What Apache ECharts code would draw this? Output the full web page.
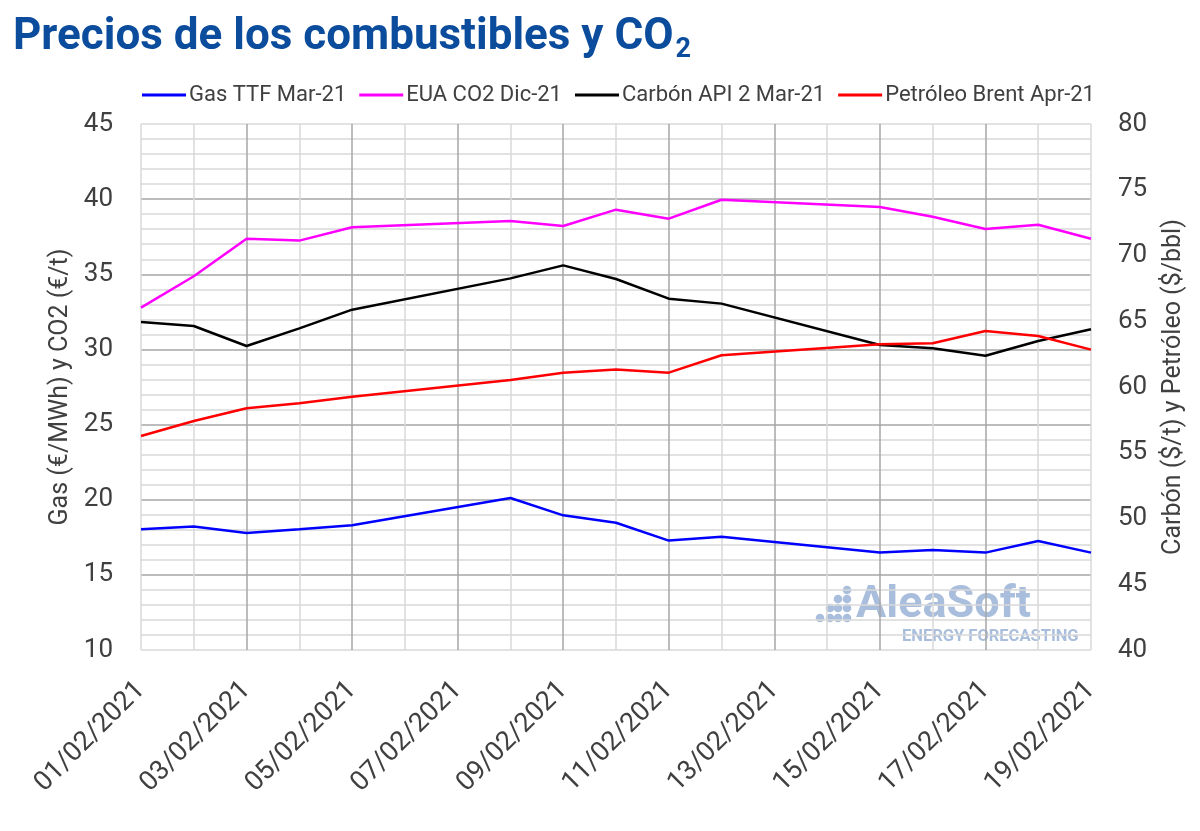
<!DOCTYPE html>
<html>
<head>
<meta charset="utf-8">
<script src="https://cdn.jsdelivr.net/npm/echarts@6/dist/echarts.min.js"></script>
<style>html,body{margin:0;padding:0;background:#fff}#c{width:1200px;height:831px}</style>
</head>
<body>
<div id="c"></div>
<script>
const categories = ['01/02/2021','02/02/2021','03/02/2021','04/02/2021','05/02/2021','06/02/2021','07/02/2021','08/02/2021','09/02/2021','10/02/2021','11/02/2021','12/02/2021','13/02/2021','14/02/2021','15/02/2021','16/02/2021','17/02/2021','18/02/2021','19/02/2021'];
// weekends (no trading) are null; line connects across them
const gasTTF = [18.03, 18.21, 17.79, 18.03, 18.30, null, null, 20.11, 18.96, 18.47, 17.28, 17.54, null, null, 16.48, 16.66, 16.48, 17.25, 16.48];
const euaCO2 = [32.78, 34.87, 37.37, 37.24, 38.13, null, null, 38.55, 38.21, 39.30, 38.70, 39.96, null, null, 39.48, 38.83, 38.01, 38.30, 37.37];
const carbonAPI2 = [64.94, 64.64, 63.12, 64.46, 65.88, null, null, 68.26, 69.25, 68.21, 66.72, 66.34, null, null, 63.19, 62.94, 62.38, 63.50, 64.39];
const brent = [56.27, 57.41, 58.38, 58.76, 59.26, null, null, 60.53, 61.09, 61.33, 61.09, 62.41, null, null, 63.25, 63.32, 64.26, 63.88, 62.84];
const seriesNames = ['Gas TTF Mar-21', 'EUA CO2 Dic-21', 'Carbón API 2 Mar-21', 'Petróleo Brent Apr-21'];

const FONT = 'Roboto, "Noto Sans", sans-serif';
const LIGHT = '#d9d9d9', DARK = '#a6a6a6';
const xSplitColors = categories.map((c, i) => (i > 0 && i < categories.length - 1 && i % 2 === 0) ? DARK : LIGHT);
const ySplitColors = [LIGHT, DARK, DARK, DARK, DARK, DARK, DARK, LIGHT];

const chart = echarts.init(document.getElementById('c'));
const dots = [[820,618],[830,608],[830,618],[838,599],[838,608],[838,618],[847,590],[847,599],[847,608],[847,618]];
const WM = '#a9bedc';
chart.setOption({
  animation: false,
  backgroundColor: '#fff',
  title: {
    text: '{m|Precios de los combustibles y CO}{s|2}',
    left: 8, top: 6,
    textStyle: {
      rich: {
        m: { fontFamily: FONT, fontWeight: 'bold', fontSize: 44, lineHeight: 50, color: '#0b4c9c' },
        s: { fontFamily: FONT, fontWeight: 'bold', fontSize: 27, color: '#0b4c9c', verticalAlign: 'top', padding: [26, 0, 0, 2] }
      }
    }
  },
  legend: {
    top: 79, left: 137,
    itemGap: 13,
    itemWidth: 44, itemHeight: 3,
    icon: 'rect',
    textStyle: { fontFamily: FONT, fontSize: 22, color: '#404040', padding: [0, 0, 0, -2] },
    data: seriesNames
  },
  grid: { left: 141, top: 124, width: 950, height: 526, containLabel: false },
  xAxis: {
    type: 'category',
    data: categories,
    boundaryGap: false,
    axisLine: { show: false },
    axisTick: { show: false },
    axisLabel: { interval: 1, rotate: 45, fontFamily: FONT, fontSize: 27, color: '#404040', margin: 36 },
    splitLine: { show: true, interval: 0, lineStyle: { color: xSplitColors, width: 1.5 } }
  },
  yAxis: [
    {
      type: 'value', min: 10, max: 45, interval: 5,
      name: 'Gas (€/MWh) y CO2 (€/t)',
      nameLocation: 'middle', nameGap: 66,
      nameTextStyle: { fontFamily: FONT, fontSize: 25, color: '#404040' },
      axisLine: { show: false }, axisTick: { show: false },
      axisLabel: { fontFamily: FONT, fontSize: 26, color: '#404040', margin: 28 },
      splitLine: { show: true, lineStyle: { color: ySplitColors, width: 1.5 } },
      minorTick: { show: false, splitNumber: 5 },
      minorSplitLine: { show: true, lineStyle: { color: LIGHT, width: 1.5 } }
    },
    {
      type: 'value', min: 40, max: 80, interval: 5,
      name: 'Carbón ($/t) y Petróleo ($/bbl)',
      nameLocation: 'middle', nameGap: 70, nameRotate: 90,
      nameTextStyle: { fontFamily: FONT, fontSize: 25, color: '#404040' },
      axisLine: { show: false }, axisTick: { show: false },
      axisLabel: { fontFamily: FONT, fontSize: 26, color: '#404040', margin: 27 },
      splitLine: { show: false }
    }
  ],
  graphic: [
    ...dots.map(d => ({ type: 'circle', shape: { cx: d[0], cy: d[1], r: 4.3 }, style: { fill: WM }, z: -10, silent: true })),
    { type: 'text', left: 856, top: 583, style: { text: 'AleaSoft', fontFamily: FONT, fontWeight: 'bold', fontSize: 45, fill: WM }, z: -10, silent: true },
    { type: 'text', left: 902, top: 628, style: { text: 'ENERGY FORECASTING', fontFamily: FONT, fontWeight: 'bold', fontSize: 16.5, fill: WM }, z: -10, silent: true }
  ],
  series: [
    { name: seriesNames[0], type: 'line', data: gasTTF, yAxisIndex: 0, connectNulls: true, showSymbol: false, lineStyle: { color: '#0000ff', width: 2.5 }, itemStyle: { color: '#0000ff' } },
    { name: seriesNames[1], type: 'line', data: euaCO2, yAxisIndex: 0, connectNulls: true, showSymbol: false, lineStyle: { color: '#ff00ff', width: 2.5 }, itemStyle: { color: '#ff00ff' } },
    { name: seriesNames[2], type: 'line', data: carbonAPI2, yAxisIndex: 1, connectNulls: true, showSymbol: false, lineStyle: { color: '#000000', width: 2.5 }, itemStyle: { color: '#000000' } },
    { name: seriesNames[3], type: 'line', data: brent, yAxisIndex: 1, connectNulls: true, showSymbol: false, lineStyle: { color: '#ff0000', width: 2.5 }, itemStyle: { color: '#ff0000' } }
  ]
});
</script>
</body>
</html>
